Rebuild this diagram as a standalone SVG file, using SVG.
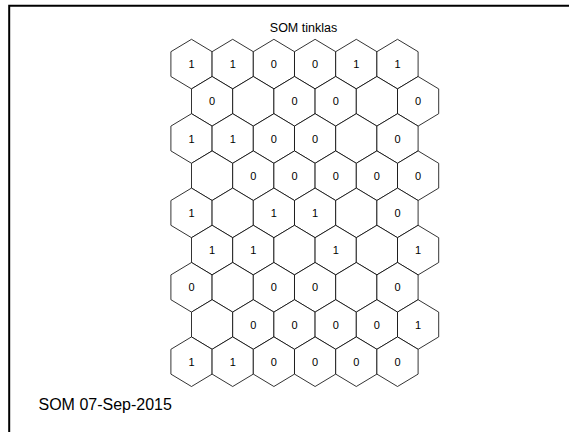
<svg xmlns="http://www.w3.org/2000/svg" xmlns:xlink="http://www.w3.org/1999/xlink" width="569" height="432" viewBox="0 0 569 432">
<style>
.hex{fill:#fff;stroke:#000;stroke-width:0.8}
.lbl{font-family:"Liberation Sans",Arial,sans-serif;font-size:11px;fill:#000;text-anchor:middle}
.title{font-family:"Liberation Sans",Arial,sans-serif;font-size:12.5px;fill:#000;text-anchor:middle}
.foot{font-family:"Liberation Sans",Arial,sans-serif;font-size:16px;fill:#000}
</style>
<defs>
<polygon id="hx" class="hex" points="0,-24.8 20.6,-12.4 20.6,12.4 0,24.8 -20.6,12.4 -20.6,-12.4"/>
</defs>
<rect x="0" y="0" width="569" height="432" fill="#fff"/>
<path d="M9.2,432 V5.7 H569" fill="none" stroke="#000" stroke-width="2"/>
<text id="title" class="title" x="303.5" y="32">SOM tinklas</text>
<g id="grid">
<g id="n-r1c1" transform="translate(191.5,64.1)"><use xlink:href="#hx"/><text class="lbl" y="4">1</text></g>
<g id="n-r1c2" transform="translate(232.7,64.1)"><use xlink:href="#hx"/><text class="lbl" y="4">1</text></g>
<g id="n-r1c3" transform="translate(273.9,64.1)"><use xlink:href="#hx"/><text class="lbl" y="4">0</text></g>
<g id="n-r1c4" transform="translate(315.1,64.1)"><use xlink:href="#hx"/><text class="lbl" y="4">0</text></g>
<g id="n-r1c5" transform="translate(356.3,64.1)"><use xlink:href="#hx"/><text class="lbl" y="4">1</text></g>
<g id="n-r1c6" transform="translate(397.5,64.1)"><use xlink:href="#hx"/><text class="lbl" y="4">1</text></g>

<g id="n-r2c1" transform="translate(212.1,101.3)"><use xlink:href="#hx"/><text class="lbl" y="4">0</text></g>
<g id="n-r2c2" transform="translate(253.3,101.3)"><use xlink:href="#hx"/></g>
<g id="n-r2c3" transform="translate(294.5,101.3)"><use xlink:href="#hx"/><text class="lbl" y="4">0</text></g>
<g id="n-r2c4" transform="translate(335.7,101.3)"><use xlink:href="#hx"/><text class="lbl" y="4">0</text></g>
<g id="n-r2c5" transform="translate(376.9,101.3)"><use xlink:href="#hx"/></g>
<g id="n-r2c6" transform="translate(418.1,101.3)"><use xlink:href="#hx"/><text class="lbl" y="4">0</text></g>

<g id="n-r3c1" transform="translate(191.5,138.5)"><use xlink:href="#hx"/><text class="lbl" y="4">1</text></g>
<g id="n-r3c2" transform="translate(232.7,138.5)"><use xlink:href="#hx"/><text class="lbl" y="4">1</text></g>
<g id="n-r3c3" transform="translate(273.9,138.5)"><use xlink:href="#hx"/><text class="lbl" y="4">0</text></g>
<g id="n-r3c4" transform="translate(315.1,138.5)"><use xlink:href="#hx"/><text class="lbl" y="4">0</text></g>
<g id="n-r3c5" transform="translate(356.3,138.5)"><use xlink:href="#hx"/></g>
<g id="n-r3c6" transform="translate(397.5,138.5)"><use xlink:href="#hx"/><text class="lbl" y="4">0</text></g>

<g id="n-r4c1" transform="translate(212.1,175.7)"><use xlink:href="#hx"/></g>
<g id="n-r4c2" transform="translate(253.3,175.7)"><use xlink:href="#hx"/><text class="lbl" y="4">0</text></g>
<g id="n-r4c3" transform="translate(294.5,175.7)"><use xlink:href="#hx"/><text class="lbl" y="4">0</text></g>
<g id="n-r4c4" transform="translate(335.7,175.7)"><use xlink:href="#hx"/><text class="lbl" y="4">0</text></g>
<g id="n-r4c5" transform="translate(376.9,175.7)"><use xlink:href="#hx"/><text class="lbl" y="4">0</text></g>
<g id="n-r4c6" transform="translate(418.1,175.7)"><use xlink:href="#hx"/><text class="lbl" y="4">0</text></g>

<g id="n-r5c1" transform="translate(191.5,212.9)"><use xlink:href="#hx"/><text class="lbl" y="4">1</text></g>
<g id="n-r5c2" transform="translate(232.7,212.9)"><use xlink:href="#hx"/></g>
<g id="n-r5c3" transform="translate(273.9,212.9)"><use xlink:href="#hx"/><text class="lbl" y="4">1</text></g>
<g id="n-r5c4" transform="translate(315.1,212.9)"><use xlink:href="#hx"/><text class="lbl" y="4">1</text></g>
<g id="n-r5c5" transform="translate(356.3,212.9)"><use xlink:href="#hx"/></g>
<g id="n-r5c6" transform="translate(397.5,212.9)"><use xlink:href="#hx"/><text class="lbl" y="4">0</text></g>

<g id="n-r6c1" transform="translate(212.1,250.1)"><use xlink:href="#hx"/><text class="lbl" y="4">1</text></g>
<g id="n-r6c2" transform="translate(253.3,250.1)"><use xlink:href="#hx"/><text class="lbl" y="4">1</text></g>
<g id="n-r6c3" transform="translate(294.5,250.1)"><use xlink:href="#hx"/></g>
<g id="n-r6c4" transform="translate(335.7,250.1)"><use xlink:href="#hx"/><text class="lbl" y="4">1</text></g>
<g id="n-r6c5" transform="translate(376.9,250.1)"><use xlink:href="#hx"/></g>
<g id="n-r6c6" transform="translate(418.1,250.1)"><use xlink:href="#hx"/><text class="lbl" y="4">1</text></g>

<g id="n-r7c1" transform="translate(191.5,287.3)"><use xlink:href="#hx"/><text class="lbl" y="4">0</text></g>
<g id="n-r7c2" transform="translate(232.7,287.3)"><use xlink:href="#hx"/></g>
<g id="n-r7c3" transform="translate(273.9,287.3)"><use xlink:href="#hx"/><text class="lbl" y="4">0</text></g>
<g id="n-r7c4" transform="translate(315.1,287.3)"><use xlink:href="#hx"/><text class="lbl" y="4">0</text></g>
<g id="n-r7c5" transform="translate(356.3,287.3)"><use xlink:href="#hx"/></g>
<g id="n-r7c6" transform="translate(397.5,287.3)"><use xlink:href="#hx"/><text class="lbl" y="4">0</text></g>

<g id="n-r8c1" transform="translate(212.1,324.5)"><use xlink:href="#hx"/></g>
<g id="n-r8c2" transform="translate(253.3,324.5)"><use xlink:href="#hx"/><text class="lbl" y="4">0</text></g>
<g id="n-r8c3" transform="translate(294.5,324.5)"><use xlink:href="#hx"/><text class="lbl" y="4">0</text></g>
<g id="n-r8c4" transform="translate(335.7,324.5)"><use xlink:href="#hx"/><text class="lbl" y="4">0</text></g>
<g id="n-r8c5" transform="translate(376.9,324.5)"><use xlink:href="#hx"/><text class="lbl" y="4">0</text></g>
<g id="n-r8c6" transform="translate(418.1,324.5)"><use xlink:href="#hx"/><text class="lbl" y="4">1</text></g>

<g id="n-r9c1" transform="translate(191.5,361.7)"><use xlink:href="#hx"/><text class="lbl" y="4">1</text></g>
<g id="n-r9c2" transform="translate(232.7,361.7)"><use xlink:href="#hx"/><text class="lbl" y="4">1</text></g>
<g id="n-r9c3" transform="translate(273.9,361.7)"><use xlink:href="#hx"/><text class="lbl" y="4">0</text></g>
<g id="n-r9c4" transform="translate(315.1,361.7)"><use xlink:href="#hx"/><text class="lbl" y="4">0</text></g>
<g id="n-r9c5" transform="translate(356.3,361.7)"><use xlink:href="#hx"/><text class="lbl" y="4">0</text></g>
<g id="n-r9c6" transform="translate(397.5,361.7)"><use xlink:href="#hx"/><text class="lbl" y="4">0</text></g>
</g>
<text id="footer" class="foot" x="38.5" y="409.5">SOM 07-Sep-2015</text>
</svg>
